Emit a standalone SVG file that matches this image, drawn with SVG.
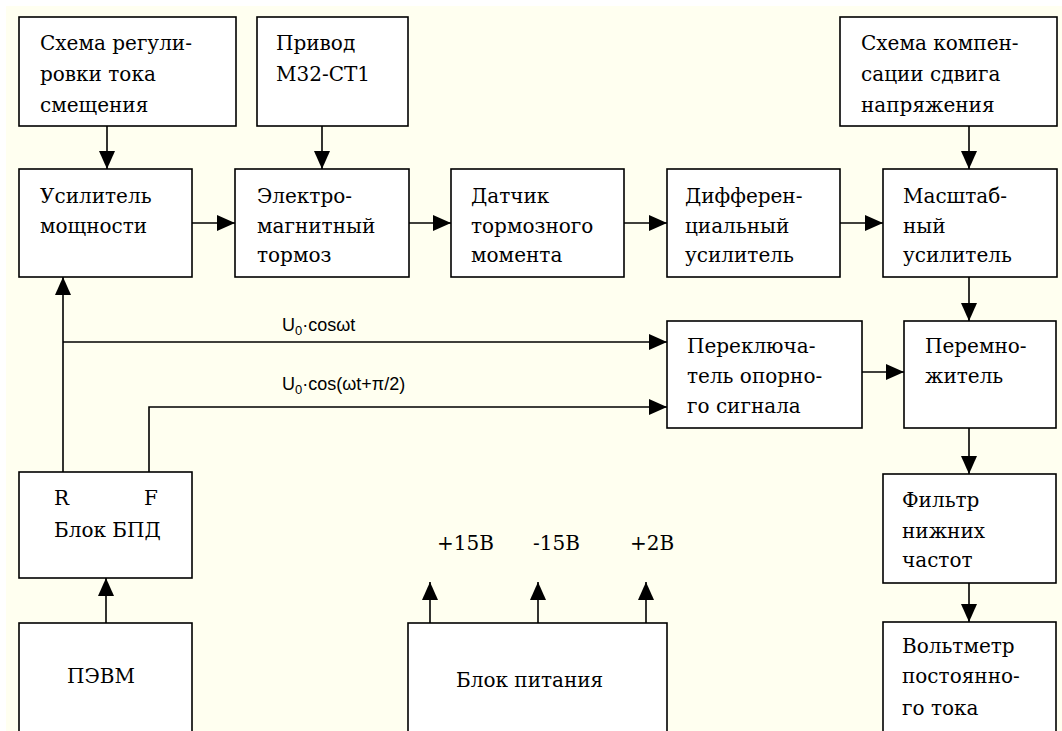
<svg xmlns="http://www.w3.org/2000/svg" width="1062" height="731" viewBox="0 0 1062 731">
<style>
.bg{fill:#FFFFF0}
.box{fill:#FFFFFF;stroke:#000;stroke-width:1.6}
.t{font-family:"DejaVu Serif","Liberation Serif",serif;font-size:20px;fill:#000}
.s{font-family:"Liberation Sans",Arial,sans-serif;font-size:18px;fill:#000}
.c{fill:none;stroke:#000;stroke-width:1.6}
.sub{font-size:13px}
</style>
<defs>
<marker id="ah" markerUnits="userSpaceOnUse" markerWidth="18" markerHeight="16" refX="18" refY="8" orient="auto">
<path d="M0,0 L18,8 L0,16 z" fill="#000"/>
</marker>
</defs>
<rect x="0" y="0" width="1062" height="731" fill="#FFFFFF"/>
<rect class="bg" x="6" y="6" width="1056" height="725"/>

<g id="connectors">
<line class="c" x1="107" y1="126" x2="107" y2="169" marker-end="url(#ah)"/>
<line class="c" x1="322" y1="126" x2="322" y2="169" marker-end="url(#ah)"/>
<line class="c" x1="969" y1="126" x2="969" y2="169" marker-end="url(#ah)"/>
<line class="c" x1="192" y1="223" x2="235" y2="223" marker-end="url(#ah)"/>
<line class="c" x1="409" y1="223" x2="451" y2="223" marker-end="url(#ah)"/>
<line class="c" x1="624" y1="223" x2="667" y2="223" marker-end="url(#ah)"/>
<line class="c" x1="840" y1="223" x2="883" y2="223" marker-end="url(#ah)"/>
<line class="c" x1="969" y1="277" x2="969" y2="321" marker-end="url(#ah)"/>
<line class="c" x1="862" y1="372" x2="904" y2="372" marker-end="url(#ah)"/>
<line class="c" x1="969" y1="428" x2="969" y2="474" marker-end="url(#ah)"/>
<line class="c" x1="969" y1="583" x2="969" y2="622" marker-end="url(#ah)"/>
<line class="c" x1="63" y1="472" x2="63" y2="277" marker-end="url(#ah)"/>
<line class="c" x1="63" y1="342" x2="667" y2="342" marker-end="url(#ah)"/>
<polyline class="c" points="149,472 149,407 667,407" marker-end="url(#ah)"/>
<line class="c" x1="106" y1="623" x2="106" y2="578" marker-end="url(#ah)"/>
<line class="c" x1="430" y1="623" x2="430" y2="582" marker-end="url(#ah)"/>
<line class="c" x1="538" y1="623" x2="538" y2="582" marker-end="url(#ah)"/>
<line class="c" x1="646" y1="623" x2="646" y2="582" marker-end="url(#ah)"/>
<text class="s" x="282" y="331">U<tspan class="sub" dy="4">0</tspan><tspan dy="-4">·cosωt</tspan></text>
<text class="s" x="282" y="390">U<tspan class="sub" dy="4">0</tspan><tspan dy="-4">·cos(ωt+π/2)</tspan></text>
<text class="t" x="437" y="550">+15В</text>
<text class="t" x="533" y="550">-15В</text>
<text class="t" x="630" y="550">+2В</text>
</g>

<g id="n-shema-reg">
<rect class="box" x="19" y="17" width="217" height="109"/>
<text class="t" x="40" y="50">Схема регули-</text>
<text class="t" x="40" y="81">ровки тока</text>
<text class="t" x="40" y="112">смещения</text>
</g>
<g id="n-privod">
<rect class="box" x="257" y="17" width="151" height="109"/>
<text class="t" x="276" y="50">Привод</text>
<text class="t" x="276" y="81">М32-СТ1</text>
</g>
<g id="n-shema-komp">
<rect class="box" x="840" y="17" width="217" height="109"/>
<text class="t" x="861" y="50">Схема компен-</text>
<text class="t" x="861" y="81">сации сдвига</text>
<text class="t" x="861" y="112">напряжения</text>
</g>
<g id="n-usil-mosch">
<rect class="box" x="19" y="169" width="173" height="108"/>
<text class="t" x="40" y="203">Усилитель</text>
<text class="t" x="40" y="233">мощности</text>
</g>
<g id="n-elektro">
<rect class="box" x="235" y="169" width="174" height="108"/>
<text class="t" x="257" y="203">Электро-</text>
<text class="t" x="257" y="233">магнитный</text>
<text class="t" x="257" y="262">тормоз</text>
</g>
<g id="n-datchik">
<rect class="box" x="451" y="169" width="173" height="108"/>
<text class="t" x="471" y="203">Датчик</text>
<text class="t" x="471" y="233">тормозного</text>
<text class="t" x="471" y="262">момента</text>
</g>
<g id="n-diff">
<rect class="box" x="667" y="169" width="173" height="108"/>
<text class="t" x="685" y="203">Дифферен-</text>
<text class="t" x="685" y="233">циальный</text>
<text class="t" x="685" y="262">усилитель</text>
</g>
<g id="n-masht">
<rect class="box" x="883" y="169" width="174" height="108"/>
<text class="t" x="903" y="203">Масштаб-</text>
<text class="t" x="903" y="233">ный</text>
<text class="t" x="903" y="262">усилитель</text>
</g>
<g id="n-perekl">
<rect class="box" x="667" y="321" width="195" height="107"/>
<text class="t" x="687" y="353">Переключа-</text>
<text class="t" x="687" y="383">тель опорно-</text>
<text class="t" x="687" y="413">го сигнала</text>
</g>
<g id="n-peremn">
<rect class="box" x="904" y="321" width="152" height="107"/>
<text class="t" x="925" y="353">Перемно-</text>
<text class="t" x="925" y="383">житель</text>
</g>
<g id="n-filtr">
<rect class="box" x="883" y="474" width="173" height="109"/>
<text class="t" x="902" y="507">Фильтр</text>
<text class="t" x="902" y="538">нижних</text>
<text class="t" x="902" y="567">частот</text>
</g>
<g id="n-voltmetr">
<rect class="box" x="883" y="622" width="173" height="120"/>
<text class="t" x="902" y="653">Вольтметр</text>
<text class="t" x="902" y="683">постоянно-</text>
<text class="t" x="902" y="715">го тока</text>
</g>
<g id="n-bpd">
<rect class="box" x="19" y="472" width="173" height="106"/>
<text class="t" x="54" y="505">R</text>
<text class="t" x="144" y="505">F</text>
<text class="t" x="54" y="537">Блок БПД</text>
</g>
<g id="n-pevm">
<rect class="box" x="19" y="623" width="173" height="120"/>
<text class="t" x="67" y="683">ПЭВМ</text>
</g>
<g id="n-pitanie">
<rect class="box" x="408" y="623" width="259" height="120"/>
<text class="t" x="456" y="687">Блок питания</text>
</g>
</svg>
